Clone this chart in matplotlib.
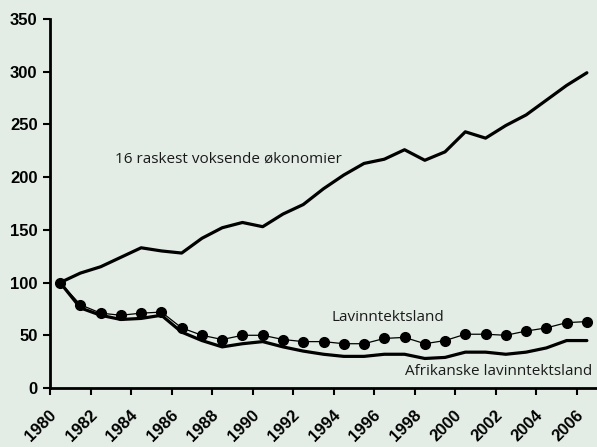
import numpy as np
import matplotlib
matplotlib.use('Agg')
import matplotlib.pyplot as plt
from matplotlib.transforms import offset_copy

years = list(range(1980, 2007))
fastest = [100, 109, 115, 124, 133, 130, 128, 142, 152, 157, 153, 165, 174, 189, 202,
           213, 217, 226, 216, 224, 243, 237, 249, 259, 273, 287, 299]
lowinc = [100, 79, 71, 69, 71, 72, 57, 50, 46, 50, 50, 46, 44, 44, 42,
          42, 47, 48, 42, 45, 51, 51, 50, 54, 57, 62, 63]
africa = [100, 76, 69, 65, 66, 69, 53, 45, 39, 42, 44, 39, 35, 32, 30,
          30, 32, 32, 28, 29, 34, 34, 32, 34, 38, 45, 45]
tick_years = list(range(1980, 2007, 2))

bg = '#e3ede5'
plt.rcParams['font.family'] = ['Liberation Sans Narrow', 'Liberation Sans', 'DejaVu Sans']

fig = plt.figure(figsize=(5.97, 4.47), dpi=100, facecolor=bg)
ax = fig.add_axes([50/597, 59/447, 547/597, 369/447], facecolor=bg)

x = np.array(years) + 0.5
ax.plot(x, fastest, color='black', lw=2.3, solid_capstyle='round')
ax.plot(x, africa, color='black', lw=2.3, solid_capstyle='round')
ax.plot(x, lowinc, color='black', lw=0.9, marker='o', ms=7)

ax.set_xlim(1980, 2007)
ax.set_ylim(0, 350)
ax.set_yticks(range(0, 351, 50))
ax.set_xticks(tick_years)
ax.set_xticklabels([])

for s in ['top', 'right']:
    ax.spines[s].set_visible(False)
for s in ['left', 'bottom']:
    ax.spines[s].set_linewidth(2)
ax.tick_params(axis='both', direction='out', length=5, width=1.5,
               labelsize=12)
ax.tick_params(axis='y', pad=4)
for lab in ax.get_yticklabels():
    lab.set_fontweight('bold')

# rotated year labels, placed below each tick
lab_tr = offset_copy(ax.get_xaxis_transform(), fig=fig, x=4, y=-25, units='dots')
for yr in tick_years:
    ax.text(yr, 0, str(yr), transform=lab_tr, rotation=45, ha='right', va='center',
            rotation_mode='anchor', fontsize=12, fontweight='bold', clip_on=False)

tf = ['Open Sans', 'DejaVu Sans']
ax.text(1983.2, 217, '16 raskest voksende økonomier', fontsize=11, family=tf,
        va='center', ha='left', color='#1a1a1a')
ax.text(1993.9, 67, 'Lavinntektsland', fontsize=11, family=tf,
        va='center', ha='left', color='#1a1a1a')
ax.text(1997.5, 16, 'Afrikanske lavinntektsland', fontsize=11, family=tf,
        va='center', ha='left', color='#1a1a1a')

fig.savefig('out.png', dpi=100, facecolor=bg)
